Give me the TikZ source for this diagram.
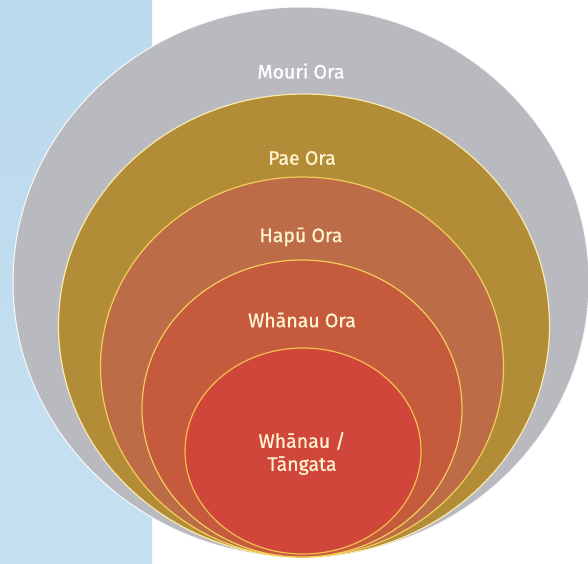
\documentclass[tikz,border=0pt]{standalone}
\usepackage{fontspec}
\setmainfont{Fira Sans}
\newfontfamily\labfont{Fira Sans}[FakeBold=0.9]
\usetikzlibrary{shapes.geometric}
\definecolor{stripblue}{HTML}{BAD9EC}
\definecolor{stripblue2}{HTML}{C6E1F1}
\definecolor{mouri}{HTML}{B9BAC0}
\definecolor{pae}{HTML}{B38C38}
\definecolor{hapu}{HTML}{BC6D48}
\definecolor{whora}{HTML}{C65A3D}
\definecolor{tangata}{HTML}{D1463A}
\definecolor{cream}{HTML}{FFF3CF}
\definecolor{lineA}{HTML}{F7EAB0}
\definecolor{lineB}{HTML}{F4CC58}
\definecolor{lineC}{HTML}{F2BE4E}
\tikzset{
  ring/.style={ellipse, inner sep=0pt, outer sep=0pt, line width=1.2pt},
  lab/.style={font=\labfont\fontsize{19.5}{23}\selectfont, text=cream, align=center, inner sep=0pt}
}
\begin{document}
\begin{tikzpicture}[x=1pt,y=-1pt]
\useasboundingbox (0,0) rectangle (588,563);
\clip (0,0) rectangle (588,563);
\fill[top color=stripblue, bottom color=stripblue2] (0,0) rectangle (152,563);
\node[ring, fill=mouri, draw=white!92!mouri, line width=1pt, minimum width=576pt, minimum height=550pt] (mouri) at (301,282) {};
\node[ring, fill=pae, draw=lineA, minimum width=491pt, minimum height=463pt] (pae) at (304,325.5) {};
\node[ring, fill=hapu, draw=lineB, minimum width=403pt, minimum height=380pt] (hapu) at (302,367) {};
\node[ring, fill=whora, draw=lineB, minimum width=320pt, minimum height=297pt] (whora) at (302,408.5) {};
\node[ring, fill=tangata, draw=lineC, minimum width=236pt, minimum height=206pt] (tangata) at (303,451) {};
\node[lab, text=white] (tmouri) at (301,71) {Mouri Ora};
\node[lab] (tpae) at (302,158) {Pae Ora};
\node[lab] (thapu) at (301,237) {Hapū Ora};
\node[lab] (twhora) at (302,320) {Whānau Ora};
\node[lab] (ttangata) at (302,453.5) {Whānau /\\Tāngata};
\end{tikzpicture}
\end{document}
